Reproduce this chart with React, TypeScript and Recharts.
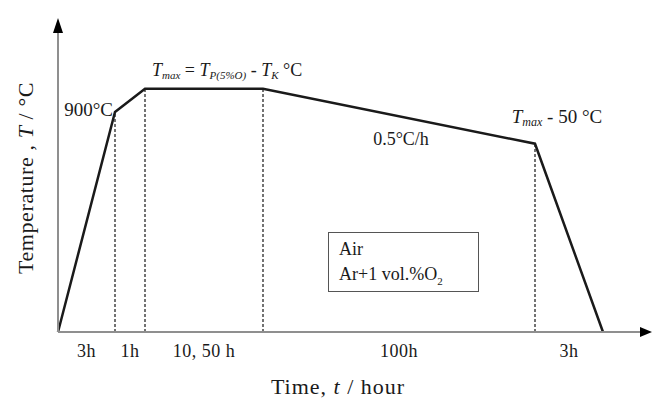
import { Legend, Line, LineChart, ReferenceDot, ReferenceLine, XAxis, YAxis } from "recharts"

// schematic heat-treatment profile (x in drawing units, not to scale)
const times = [0, 57, 87, 205, 477, 545]
const temps = [0, 900, 995, 995, 770, 0]
const xEnd = 590
const yTop = 1235

const stepLabels = ["3h", "1h", "10, 50 h", "100h", "3h"]
const stepTicks = times.slice(0, -1).map((t, i) => (t + times[i + 1]) / 2)

const data = times.map((t, i) => ({ t, temp: temps[i] }))

const serif = "'Liberation Serif', 'Times New Roman', serif"
const axisGrey = "#8f8f8f"
const ink = "#1a1a1a"

const textLabel = (render: (cx: number, cy: number) => JSX.Element) => (props: any) => {
  const vb = props.viewBox || {}
  return render(vb.x + vb.width / 2, vb.y + vb.height / 2)
}

export default function App() {
  return (
    <div style={{ position: "absolute", left: 0, top: 0 }}>
      <LineChart width={652} height={398} data={data} margin={{ top: 30, right: 4, left: 0, bottom: 0 }}>
        <XAxis
          type="number"
          dataKey="t"
          domain={[0, xEnd]}
          ticks={stepTicks}
          interval={0}
          tickFormatter={(v) => stepLabels[stepTicks.indexOf(v)]}
          tickLine={false}
          tickMargin={6}
          height={66}
          axisLine={{ stroke: axisGrey, strokeWidth: 2 }}
          tick={{ fill: ink, fontSize: 18, fontFamily: serif, letterSpacing: 0.5 }}
          label={{
            content: (p: any) => {
              const vb = p.viewBox
              return (
                <text x={vb.x + vb.width / 2 - 15} y={vb.y + 62} textAnchor="middle" fill={ink} fontSize={22} letterSpacing={1} fontFamily={serif}>
                  Time, <tspan fontStyle="italic">t</tspan> / hour
                </text>
              )
            },
          }}
        />
        <YAxis
          type="number"
          domain={[0, yTop]}
          width={58}
          tick={false}
          tickLine={false}
          axisLine={{ stroke: axisGrey, strokeWidth: 2 }}
          label={{
            content: (p: any) => {
              const vb = p.viewBox
              const cx = 25
              const cy = vb.y + vb.height / 2 - 3
              return (
                <text x={cx} y={cy} transform={`rotate(-90 ${cx} ${cy})`} textAnchor="middle" dominantBaseline="central" fill={ink} fontSize={22} letterSpacing={0.6} fontFamily={serif}>
                  Temperature , <tspan fontStyle="italic">T</tspan> / °C
                </text>
              )
            },
          }}
        />

        {times.slice(1, -1).map((t, i) => (
          <ReferenceLine
            key={t}
            segment={[{ x: t, y: 0 }, { x: t, y: temps[i + 1] }]}
            stroke="#444"
            strokeWidth={1.5}
            strokeDasharray="3 2"
          />
        ))}

        <Line type="linear" dataKey="temp" stroke={ink} strokeWidth={2.5} dot={false} isAnimationActive={false} />

        {/* axis arrowheads */}
        <ReferenceDot
          x={xEnd}
          y={0}
          ifOverflow="visible"
          shape={(p: any) => <path d={`M${p.cx - 8},${p.cy - 5} L${p.cx + 4},${p.cy} L${p.cx - 8},${p.cy + 5} Z`} fill="#000" />}
        />
        <ReferenceDot
          x={0}
          y={yTop}
          ifOverflow="visible"
          shape={(p: any) => <path d={`M${p.cx - 5},${p.cy + 3} L${p.cx},${p.cy - 12} L${p.cx + 5},${p.cy + 3} Z`} fill="#000" />}
        />

        {/* annotations */}
        <ReferenceDot
          x={times[1]}
          y={temps[1]}
          r={2}
          fill="none"
          stroke="none"
          label={{
            content: textLabel((cx, cy) => (
              <text x={cx - 2} y={cy + 4} textAnchor="end" fill={ink} fontSize={19} fontFamily={serif}>
                900°C
              </text>
            )),
          }}
        />
        <ReferenceDot
          x={times[2]}
          y={temps[2]}
          r={2}
          fill="none"
          stroke="none"
          label={{
            content: textLabel((cx, cy) => (
              <text x={cx + 7} y={cy - 13} fill={ink} fontSize={18} fontFamily={serif}>
                <tspan fontStyle="italic">T</tspan>
                <tspan fontStyle="italic" fontSize={11} dy={3}>max</tspan>
                <tspan dy={-3}> = </tspan>
                <tspan fontStyle="italic">T</tspan>
                <tspan fontStyle="italic" fontSize={11} dy={3}>P(5%O)</tspan>
                <tspan dy={-3}> - </tspan>
                <tspan fontStyle="italic">T</tspan>
                <tspan fontStyle="italic" fontSize={11} dy={3}>K</tspan>
                <tspan dy={-3}> °C</tspan>
              </text>
            )),
          }}
        />
        <ReferenceDot
          x={(times[3] + times[4]) / 2}
          y={(temps[3] + temps[4]) / 2}
          r={2}
          fill="none"
          stroke="none"
          label={{
            content: textLabel((cx, cy) => (
              <text x={cx + 2} y={cy + 29} textAnchor="middle" fill={ink} fontSize={18} fontFamily={serif}>
                0.5°C/h
              </text>
            )),
          }}
        />
        <ReferenceDot
          x={times[4]}
          y={temps[4]}
          r={2}
          fill="none"
          stroke="none"
          label={{
            content: textLabel((cx, cy) => (
              <text x={cx + 22} y={cy - 21} textAnchor="middle" fill={ink} fontSize={19} fontFamily={serif}>
                <tspan fontStyle="italic">T</tspan>
                <tspan fontStyle="italic" fontSize={12} dy={3}>max</tspan>
                <tspan dy={-3}> - 50 °C</tspan>
              </text>
            )),
          }}
        />

        <Legend
          layout="vertical"
          verticalAlign="middle"
          align="center"
          wrapperStyle={{ left: 328, top: 232, width: 151, height: 60 }}
          content={() => (
            <div
              style={{
                boxSizing: "border-box",
                width: 151,
                height: 60,
                border: "1.5px solid #555",
                padding: "4px 0 0 10px",
                fontFamily: serif,
                fontSize: 18,
                lineHeight: "25px",
                color: ink,
              }}
            >
              <div>Air</div>
              <div>
                Ar+1 vol.%O<sub style={{ fontSize: 11 }}>2</sub>
              </div>
            </div>
          )}
        />
      </LineChart>
    </div>
  )
}
